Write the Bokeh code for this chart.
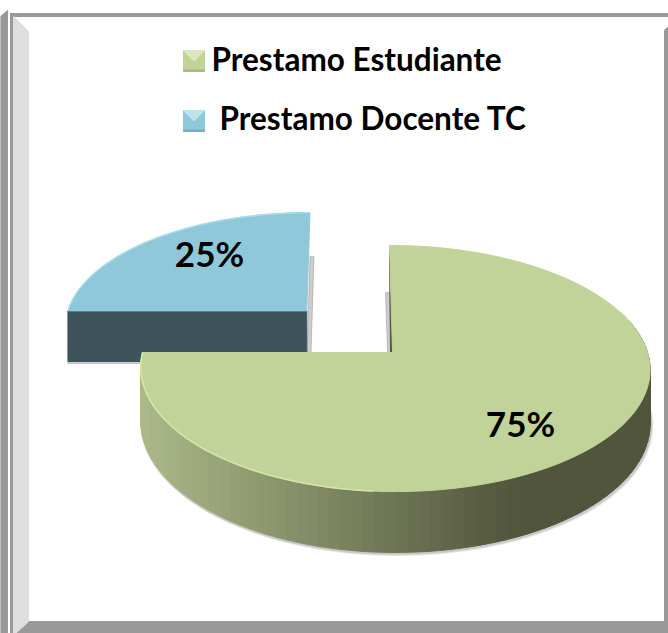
from math import sin, cos, pi
from bokeh.plotting import figure
from bokeh.core.properties import value
from bokeh.embed import file_html
from bokeh.resources import INLINE

categories = ["Prestamo Estudiante", "Prestamo Docente TC"]
percentages = [75, 25]

W, H = 668, 633
CX, CY = 392, 352          # pie centre on the picture
RX_LEFT, RX_RIGHT, RY = 250, 255, 121   # plane radii before perspective
K = 0.13                   # perspective strength
SKEW, SKEW_SMALL = 3, 6
DEPTH = 53
EXPLODE = (-0.35, 0.36)

GREEN, BLUE = "#C2D399", "#8FC9D9"
GREEN_RIM, BLUE_RIM = "#D6E6A6", "#A6DCEA"
BLUE_WALL = "#3E535A"
WALL_LIGHT, WALL_DARK = (172, 186, 138), (81, 85, 60)
SHADOW = "#808080"


def proj(u, v, drop=0.0, skew=SKEW):
    w = 1 + K * v
    rx = RX_RIGHT if u > 0 else RX_LEFT
    return CX + rx * u / w - skew * v, CY - RY * v / w + drop / w


def arc(a0, a1, off=(0, 0), drop=0.0, n=120, skew=SKEW):
    pts = []
    for i in range(n + 1):
        a = a0 + (a1 - a0) * i / n
        pts.append(proj(off[0] + sin(a), off[1] + cos(a), drop, skew))
    return pts


def xy(pts):
    return [q[0] for q in pts], [q[1] for q in pts]


p = figure(width=W, height=H, x_range=(0, W), y_range=(H, 0), tools="",
           toolbar_location=None, output_backend="svg", min_border=0,
           outline_line_color=None, background_fill_color="white",
           border_fill_color="white", x_axis_type=None, y_axis_type=None)
p.margin = (0, 0, 0, 0)
p.xgrid.visible = False
p.ygrid.visible = False

# --- picture frame
BAR = "#999999"
p.patch([0, 7, 7, 0], [16, 10, H, H], color=BAR)
p.quad(left=[10], right=[13], top=[13], bottom=[H], color=BAR)
p.quad(left=[10], right=[W], top=[13], bottom=[16], color=BAR)
p.patch([664, W, W, 664], [30, 26, H, H], color=BAR)
p.patch([28, W, W, 15], [621, 621, H, H], color=BAR)
p.patch([13, 28, 28, 15, 13], [16, 31, 621, H, H], color="#DEDEDE")

# --- angles come from the values
big = percentages[0] / sum(percentages) * 2 * pi
small = percentages[1] / sum(percentages) * 2 * pi

# --- exploded small slice
o = EXPLODE
s_arc = arc(big, big + small, o, skew=SKEW_SMALL)
apex = proj(o[0], o[1], skew=SKEW_SMALL)
s_low = arc(big, big + small, o, DEPTH, skew=SKEW_SMALL)
apex_low = proj(o[0], o[1], DEPTH, skew=SKEW_SMALL)
# shadows
p.patch([s_arc[-1][0], s_arc[-1][0] + 4, apex_low[0] + 4, apex_low[0]],
        [s_arc[-1][1] + 44, s_arc[-1][1] + 44, apex_low[1] + 1, apex_low[1]],
        color=SHADOW, alpha=0.4)
p.patch([s_low[0][0], apex_low[0] + 3, apex_low[0] + 3, s_low[0][0]],
        [s_low[0][1], apex_low[1], apex_low[1] + 2, s_low[0][1] + 2],
        color=SHADOW, alpha=0.35)
# front wall
wx, wy = xy([s_arc[0], apex, apex_low, s_low[0]])
p.patch(wx, wy, color=BLUE_WALL)
# top face
fx, fy = xy(s_arc + [apex])
p.patch(fx, fy, color=BLUE)
rx_, ry_ = xy(s_arc)
p.line(rx_, ry_, line_color=BLUE_RIM, line_width=1.5)

# --- big slice
t_arc = arc(0, big)
b_arc = arc(0, big, drop=DEPTH)
ctr = proj(0, 0)
top_pt = t_arc[0]

# soft shadow under the wall
for off, a in ((4, 0.18), (2, 0.30)):
    vis = [i for i in range(len(b_arc)) if 1.2 < i * big / 120 < big]
    lx, ly = xy([(b_arc[i][0] + off * 0.4, b_arc[i][1] + off * 0.5) for i in vis])
    p.line(lx, ly, line_color=SHADOW, line_width=3, line_alpha=a)

# shadow and dark sliver of the radial wall by the gap
p.patch([top_pt[0] - 4, top_pt[0], ctr[0], ctr[0] - 5], [292, 292, ctr[1], ctr[1]],
        color=SHADOW, alpha=0.4)
p.patch([top_pt[0], ctr[0] + 1, ctr[0] - 2], [top_pt[1] + 3, ctr[1], ctr[1]], color="#4F5339")

# outer wall as shaded strips
strip_x, strip_y, strip_c = [], [], []
xmin = min(q[0] for q in t_arc)
xmax_dark = CX + 130
for i in range(len(t_arc) - 1):
    a = big * i / 120
    if a < 1.2:
        continue
    q0, q1, q2, q3 = t_arc[i], t_arc[i + 1], b_arc[i + 1], b_arc[i]
    t = min(1.0, max(0.0, (q0[0] - xmin) / (xmax_dark - xmin)))
    c = tuple(int(WALL_DARK[j] + (WALL_LIGHT[j] - WALL_DARK[j]) * (1 - t)) for j in range(3))
    strip_x.append([q0[0], q1[0], q2[0], q3[0]])
    strip_y.append([q0[1], q1[1], q2[1], q3[1]])
    strip_c.append("#%02x%02x%02x" % c)
p.patches(strip_x, strip_y, fill_color=strip_c, line_color=strip_c, line_width=1)

# top face
fx, fy = xy(t_arc + [ctr])
p.patch(fx, fy, color=GREEN)
rim = [q for i, q in enumerate(t_arc) if i * big / 120 > 3.2]
rx_, ry_ = xy(rim)
p.line(rx_, ry_, line_color=GREEN_RIM, line_width=1.5)

# --- data labels
FONT = value("Lato")
label_x = [520, 209]
label_y = [422, 252]
p.text(label_x, label_y, text=[f"{v}%" for v in percentages], text_font=FONT,
       text_font_style="bold", text_font_size="35px", text_color="#000000",
       text_align="center", text_baseline="middle")

# --- legend
leg_x = [211, 219]
leg_y = [58, 117]
p.text(leg_x, leg_y, text=categories, text_font=FONT, text_font_style="bold",
       text_font_size="31.5px", text_color="#000000", text_align="left",
       text_baseline="middle")
for yc, col, hi, lo in ((60.5, GREEN, "#DDE8BE", "#A9BB80"), (120.5, BLUE, "#BDE3EE", "#74AFC0")):
    x0, x1, y0, y1 = 183, 204, yc - 10.5, yc + 10.5
    xm, ym = (x0 + x1) / 2, (y0 + y1) / 2
    p.quad(left=[x0], right=[x1], top=[y0], bottom=[y1], color=col)
    p.patch([x0, x1, xm], [y0, y0, ym], color=hi)
    p.quad(left=[x0], right=[x1], top=[y1 - 1.5], bottom=[y1], color=lo)

open("out.html", "w").write(file_html(p, INLINE))
